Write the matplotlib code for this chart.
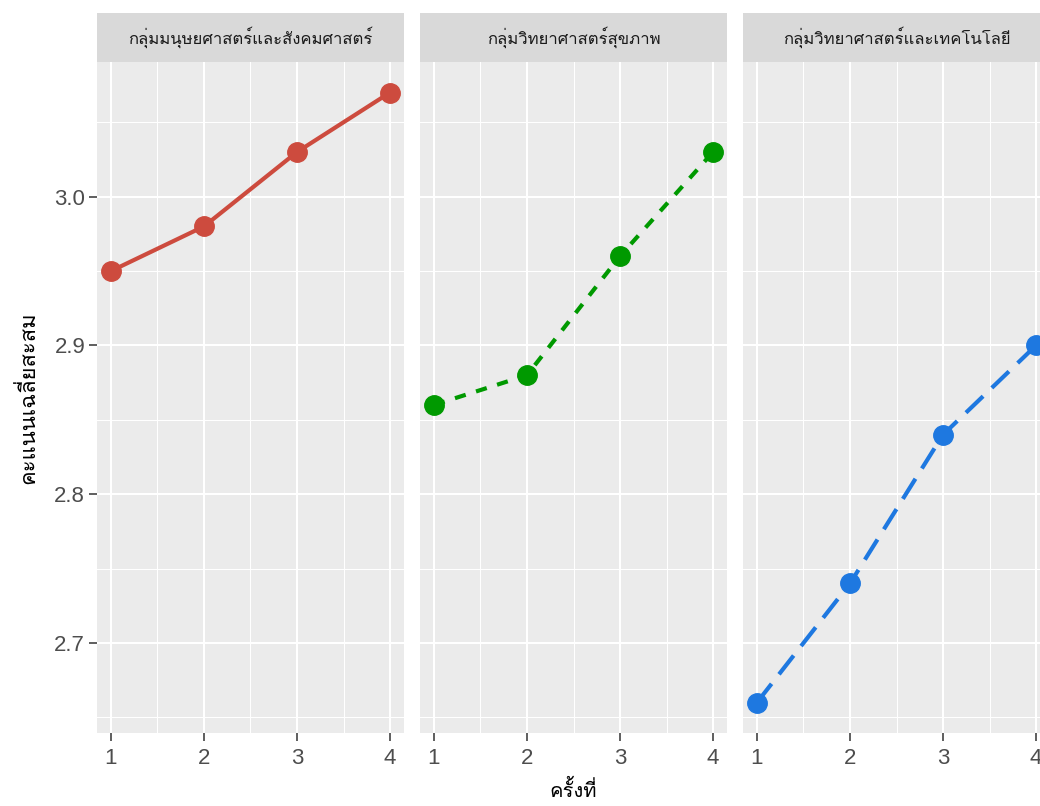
import matplotlib
matplotlib.use("Agg")
import matplotlib.pyplot as plt
from matplotlib.ticker import MultipleLocator

# data
rounds = [1, 2, 3, 4]
groups = ["กลุ่มมนุษยศาสตร์และสังคมศาสตร์", "กลุ่มวิทยาศาสตร์สุขภาพ", "กลุ่มวิทยาศาสตร์และเทคโนโลยี"]
humanities = [2.95, 2.98, 3.03, 3.07]
health = [2.86, 2.88, 2.96, 3.03]
scitech = [2.66, 2.74, 2.84, 2.90]
series = [humanities, health, scitech]

colors = ["#CD4B3E", "#009900", "#1E78E0"]
dash_styles = ["solid", (0, (2.7, 2.6)), (0, (5.7, 2.9))]

thai = ["Loma", "Noto Sans Thai Looped", "Liberation Sans"]
num_font = ["Liberation Sans", "DejaVu Sans"]

W, H = 1040, 806
fig = plt.figure(figsize=(W / 100, H / 100), dpi=100)

panel_left = [97, 420, 743]
panel_w = 307
panel_top, panel_bot = 62, 733
strip_top = 13

ymin, ymax = 2.6395, 3.0905

for i, vals in enumerate(series):
    left = panel_left[i]
    ax = fig.add_axes([left / W, (H - panel_bot) / H, panel_w / W, (panel_bot - panel_top) / H])
    ax.set_facecolor("#EBEBEB")
    for s in ax.spines.values():
        s.set_visible(False)
    ax.set_xlim(0.85, 4.15)
    ax.set_ylim(ymin, ymax)
    ax.xaxis.set_major_locator(MultipleLocator(1))
    ax.xaxis.set_minor_locator(MultipleLocator(0.5))
    ax.yaxis.set_major_locator(MultipleLocator(0.1))
    ax.yaxis.set_minor_locator(MultipleLocator(0.05))
    ax.grid(which="major", color="white", linewidth=1.5)
    ax.grid(which="minor", color="white", linewidth=0.75)
    ax.set_axisbelow(True)

    ax.plot(rounds, vals, color=colors[i], linestyle=dash_styles[i], linewidth=3.0,
            solid_capstyle="butt", dash_capstyle="butt", zorder=3)
    ax.plot(rounds, vals, "o", color=colors[i], markersize=14, zorder=4, clip_on=False)

    ax.tick_params(axis="x", which="major", length=6, width=1.1, color="#333333",
                   labelcolor="#4D4D4D", labelsize=16, pad=5)
    ax.tick_params(which="minor", length=0)
    ax.set_xticks(rounds)
    ax.set_xticklabels([str(r) for r in rounds], family=num_font)
    if i == 0:
        ax.tick_params(axis="y", which="major", length=6, width=1.1, color="#333333",
                       labelcolor="#4D4D4D", labelsize=16, pad=2.5)
        for lab in ax.get_yticklabels():
            lab.set_family(num_font)
    else:
        ax.tick_params(axis="y", which="major", length=0, labelleft=False)

    # facet strip
    sax = fig.add_axes([left / W, (H - panel_top) / H, panel_w / W, (panel_top - strip_top) / H])
    sax.set_facecolor("#D9D9D9")
    sax.set_xticks([])
    sax.set_yticks([])
    for s in sax.spines.values():
        s.set_visible(False)
    sax.text(0.5, 0.5, groups[i], ha="center", va="center", fontsize=12,
             color="#1A1A1A", family=thai, transform=sax.transAxes)

fig.text(573 / W, (H - 780) / H, "ครั้งที่", ha="center", va="top", fontsize=14.5,
         family=thai, color="black")
fig.text(28 / W, (H - 397.5) / H, "คะแนนเฉลี่ยสะสม", ha="center", va="center",
         rotation=90, fontsize=15.8, family=thai, color="black")

fig.savefig("out.png", dpi=100)
